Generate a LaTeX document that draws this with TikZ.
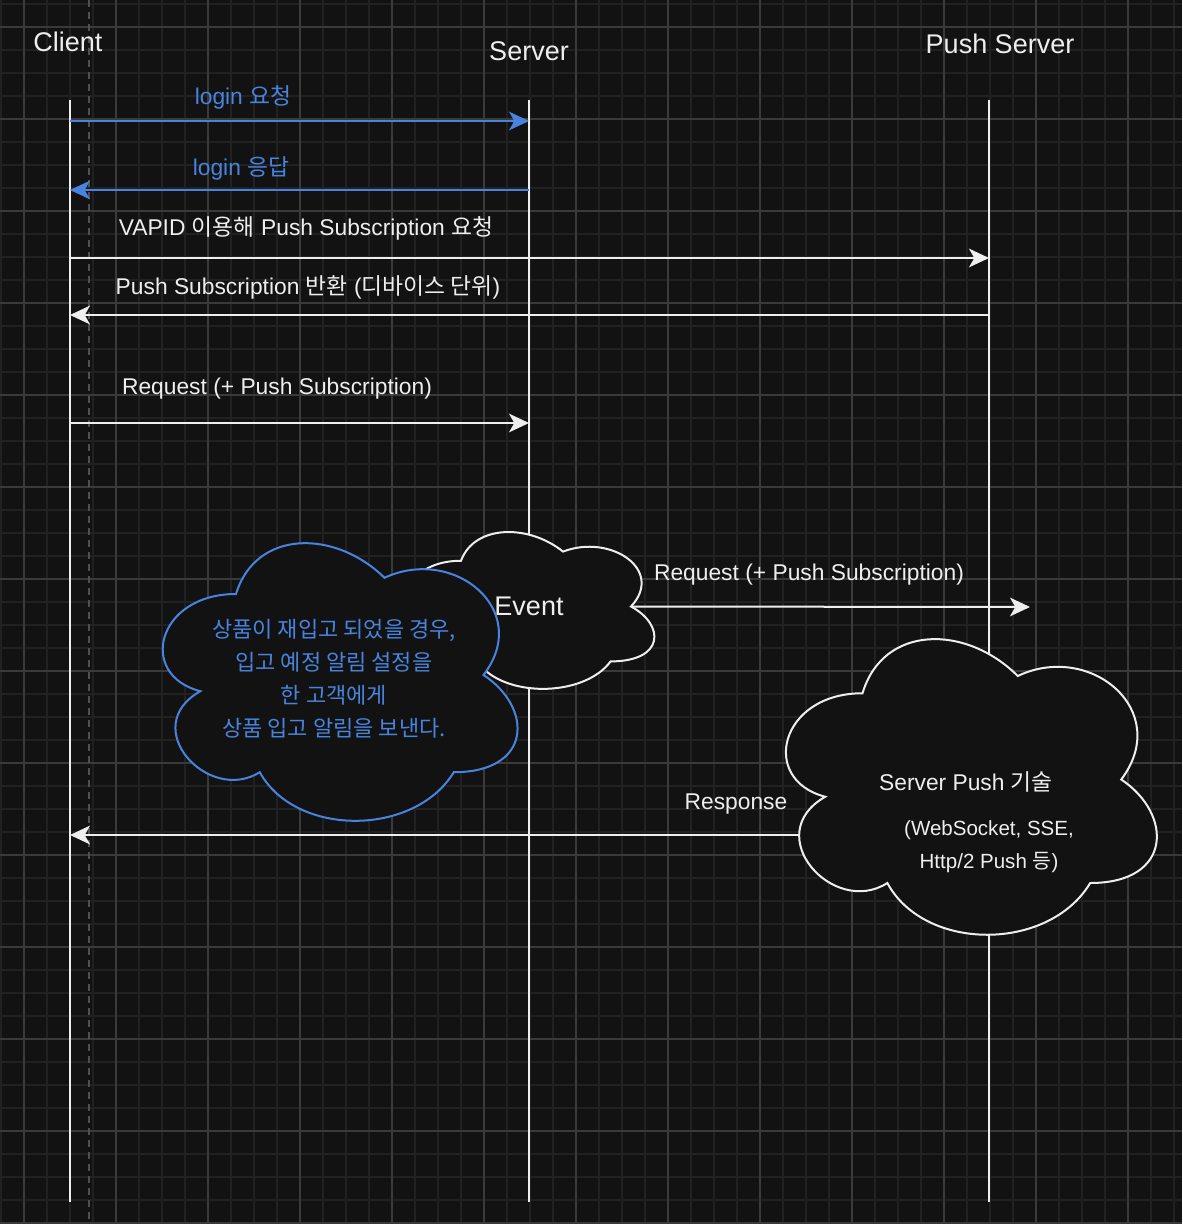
\documentclass[tikz,border=0pt]{standalone}
\usepackage{fontspec}
\setmainfont{Liberation Sans}
\newfontfamily\krfont{Noto Sans CJK KR}
\newcommand{\ko}[1]{{\krfont #1}}
\usetikzlibrary{arrows.meta}

\definecolor{bgdark}{RGB}{18,18,18}
\definecolor{gridminor}{RGB}{33,33,33}
\definecolor{gridmajor}{RGB}{58,58,58}
\definecolor{dashgrey}{RGB}{80,80,80}
\definecolor{msgblue}{RGB}{72,132,222}
\definecolor{inkwhite}{RGB}{238,238,238}

\tikzset{
  lifeline/.style={draw=inkwhite, line width=1.5pt},
  msg/.style={draw=inkwhite, line width=1.5pt, -{Stealth[length=15pt,width=14pt,inset=4pt]}},
  bluemsg/.style={msg, draw=msgblue, fill=msgblue},
  title/.style={text=inkwhite, font=\fontsize{20.25}{24}\selectfont},
  lbl/.style={text=inkwhite, font=\fontsize{17.1}{20}\selectfont},
  bluelbl/.style={lbl, text=msgblue},
  cloudwhite/.style={draw=inkwhite, fill=bgdark, line width=1.5pt},
  cloudblue/.style={draw=msgblue, fill=bgdark, line width=1.5pt}
}

% draw.io style cloud: style, name, x, y, w, h
\newcommand{\drawcloud}[6]{%
  \begin{scope}[shift={(#3,#4)}, xscale=#5, yscale=#6]
    \path[#1] (0.25,0.25) .. controls (0.05,0.25) and (0,0.5) .. (0.16,0.55)
      .. controls (0,0.66) and (0.18,0.9) .. (0.31,0.8)
      .. controls (0.4,1) and (0.7,1) .. (0.8,0.8)
      .. controls (1,0.8) and (1,0.6) .. (0.875,0.5)
      .. controls (1,0.3) and (0.8,0.1) .. (0.625,0.2)
      .. controls (0.5,0.05) and (0.3,0.05) .. (0.25,0.25) -- cycle;
    \coordinate (#2) at (0.5,0.5);
    \coordinate (#2 east) at (0.875,0.5);
  \end{scope}}

\begin{document}
\begin{tikzpicture}[x=0.75pt, y=-0.75pt]
  \fill[bgdark] (0,0) rectangle (1182,1224);
  \useasboundingbox (0,0) rectangle (1182,1224);
  % grid
  \foreach \gx in {1,24,...,1182}
    \draw[gridminor, line width=1.5pt] (\gx,0) -- (\gx,1224);
  \foreach \gy in {4,27,...,1224}
    \draw[gridminor, line width=1.5pt] (0,\gy) -- (1182,\gy);
  \foreach \gx in {24,116,...,1182}
    \draw[gridmajor, line width=0.8pt] (\gx,0) -- (\gx,1224);
  \foreach \gy in {27,119,...,1224}
    \draw[gridmajor, line width=0.8pt] (0,\gy) -- (1182,\gy);
  \draw[dashgrey, line width=1pt, dash pattern=on 5pt off 4pt] (89,0) -- (89,1224);

  % lifelines
  \coordinate (client top) at (70,100);
  \coordinate (client bottom) at (70,1202);
  \coordinate (server top) at (529,100);
  \coordinate (server bottom) at (529,1202);
  \coordinate (push top) at (989,100);
  \coordinate (push bottom) at (989,1202);
  \draw[lifeline] (client top) -- (client bottom);
  \draw[lifeline] (server top) -- (server bottom);
  \draw[lifeline] (push top) -- (push bottom);

  \node[title] (client) at (68,42) {Client};
  \node[title] (server) at (529,51) {Server};
  \node[title] (push) at (1000,44) {Push Server};

  % messages
  \coordinate (m1) at (0,121);
  \coordinate (m2) at (0,190);
  \coordinate (m3) at (0,258);
  \coordinate (m4) at (0,315);
  \coordinate (m5) at (0,423);
  \coordinate (resp) at (0,835);
  \draw[bluemsg] (client top |- m1) -- (server top |- m1);
  \draw[bluemsg] (server top |- m2) -- (client top |- m2);
  \draw[msg] (client top |- m3) -- (push top |- m3);
  \draw[msg] (push top |- m4) -- (client top |- m4);
  \draw[msg] (client top |- m5) -- (server top |- m5);

  \node[bluelbl] (loginreq) at (243,97) {login \ko{요청}};
  \node[bluelbl] (loginres) at (241,168) {login \ko{응답}};
  \node[lbl] (subreq) at (306,228) {VAPID \ko{이용해} Push Subscription \ko{요청}};
  \node[lbl] (subres) at (308,287) {Push Subscription \ko{반환} (\ko{디바이스 단위})};
  \node[lbl] (request) at (277,389) {Request (+ Push Subscription)};

  % response goes under the push cloud
  \coordinate (pushcl) at (966,779);
  \draw[msg] (pushcl |- resp) -- (client top |- resp);
  \node[lbl] (response) at (736,804) {Response};

  % clouds
  \drawcloud{cloudwhite}{event}{393}{515}{272}{183}
  \coordinate (evtend) at (1030,607);
  \draw[msg] (event east) -- (evtend);
  \node[lbl] (evtreq) at (809,575) {Request (+ Push Subscription)};
  \node[title] (eventtxt) at (event) {Event};

  \drawcloud{cloudblue}{stock}{137}{513}{396}{324}
  \node[text=msgblue, align=center, font=\fontsize{16.5}{24.75}\selectfont] (stocktxt) at (334,679)
    {\ko{상품이 재입고 되었을 경우,}\\ \ko{입고 예정 알림 설정을}\\ \ko{한 고객에게}\\ \ko{상품 입고 알림을 보낸다.}};

  \drawcloud{cloudwhite}{pushcloud}{759}{607}{414}{345}
  \node[lbl] (pushtech) at (966,782) {Server Push \ko{기술}};
  \node[text=inkwhite, align=center, font=\fontsize{15.4}{24.75}\selectfont] (pushlist) at (989,847)
    {(WebSocket, SSE,\\ Http/2 Push \ko{등})};
\end{tikzpicture}
\end{document}
